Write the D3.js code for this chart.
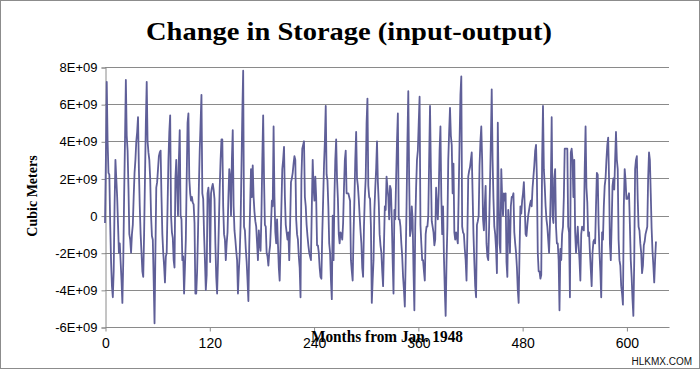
<!DOCTYPE html>
<html>
<head>
<meta charset="utf-8">
<script src="https://cdn.jsdelivr.net/npm/d3@7"></script>
<style>
  html, body { margin: 0; padding: 0; background: #fff; }
  svg { display: block; }
</style>
</head>
<body>
<svg id="chart" width="700" height="369"></svg>
<script>
// Monthly change in storage, in units of 1E+09 cubic meters (month 0 = Jan 1948)
const storageChangeE9 = [
  -0.4, 3.0, 7.2, 4.0, 2.3, 2.2, -0.5, -2.5, -3.8, -4.4,
  -3.0, 0.5, 3.0, 2.0, 1.0, -0.5, -2.0, -1.5, -2.5, -3.5,
  -4.7, -2.5, 1.0, 4.0, 7.3, 4.3, 3.5, 1.5, -1.0, -1.3,
  -2.0, -1.0, -0.5, 1.0, 2.3, 3.0, 4.0, 4.5, 5.3, 2.5,
  0.5, -1.0, -2.0, -3.0, -3.3, -1.0, 2.0, 5.0, 7.2, 4.0,
  3.4, 3.0, 2.0, 0.0, -1.1, -1.3, -3.5, -5.8, -2.0, 1.5,
  1.8, 2.5, 3.2, 3.4, 3.5, 1.0, -1.0, -2.0, -2.7, -3.6,
  -2.2, -2.0, 0.5, 3.0, 4.5, 5.4, 0.0, -0.9, -1.2, -2.4,
  -2.8, 2.0, 3.0, 1.5, 0.0, 3.0, 4.6, 0.0, -0.2, -2.4,
  -2.2, -4.2, -2.8, -1.3, 2.0, 5.0, 5.5, 2.0, 1.2, 0.8,
  1.0, 0.7, 0.6, -0.4, -4.2, -4.2, -3.0, -1.0, 1.5, 3.5,
  5.0, 6.5, 1.2, 0.9, -1.0, -2.4, -4.0, -3.2, 1.2, 1.5,
  0.7, -2.5, 1.2, 1.5, 1.7, 1.4, 0.9, -1.5, -3.3, -4.2,
  -2.5, -0.5, 1.5, 3.0, 4.1, 4.1, 0.5, -1.0, -1.3, -2.4,
  -1.5, -0.9, 1.0, 2.5, 2.1, 0.0, 3.0, 4.6, 0.5, -0.8,
  -1.3, -1.9, -2.4, -4.2, -3.0, -2.1, -0.5, 2.5, 5.5, 7.8,
  -0.6, -0.8, -1.8, -2.5, -3.5, -4.6, -1.6, 0.5, 2.5, 1.0,
  2.7, 1.0, 0.2, -0.3, -0.6, -1.5, -2.4, -0.8, -1.5, -1.9,
  0.0, 3.0, 5.4, 2.0, -0.5, -0.6, -2.0, -2.2, -2.7, -2.0,
  -1.6, -0.5, 0.8, 0.5, 4.8, 1.0, -0.9, -1.5, -0.2, -1.5,
  -2.8, -3.5, -1.5, 0.5, 2.5, 3.0, 3.7, 1.0, -0.5, -0.9,
  -1.3, -0.9, -2.4, -0.5, 1.8, 2.0, 2.3, 2.8, 3.2, 3.0,
  -0.2, -1.0, -1.3, -2.2, -2.8, -4.4, 2.0, 3.6, 3.8, 4.0,
  1.0, 0.5, -0.5, -1.1, -1.6, -2.0, -2.2, -2.4, 0.5, 3.0,
  1.5, 0.8, 2.1, 1.0, -1.6, -1.6, -2.0, -2.8, -3.3, -3.4,
  -1.0, 0.8, 2.7, 4.0, 5.9, 2.2, 1.9, 0.5, -1.5, -2.0,
  -3.5, -4.5, 0.0, -2.4, 1.0, 3.0, 4.1, 2.0, 0.9, -1.0,
  -1.5, -0.9, -1.0, -1.3, -0.4, 1.5, 3.0, 3.5, 1.2, 1.2,
  1.2, 1.0, 0.8, -2.4, -3.0, -3.5, -1.0, 0.8, 3.0, 4.5,
  2.0, 1.6, 0.9, 0.0, -0.8, -1.5, -2.8, -3.3, -0.6, 1.0,
  2.0, 5.0, 6.3, 1.6, 1.0, 0.9, -0.6, -4.7, -3.5, -2.4,
  0.3, 1.5, 2.5, 4.0, 1.8, 0.7, -1.0, -1.6, -2.0, -3.0,
  -3.8, -1.6, 0.5, 0.3, 2.1, 1.5, 1.0, -0.2, 1.6, 1.4,
  -0.2, -2.4, -4.2, 0.3, -0.2, 2.0, 4.0, 5.5, -0.2, -0.2,
  -0.6, -1.5, -2.2, -3.3, -4.0, -4.9, -2.4, 0.5, 4.0, 6.7,
  2.0, -1.1, -0.8, 0.5, -0.2, -3.0, -5.1, -0.6, 1.5, 3.0,
  3.5, 5.0, 6.4, -0.5, -1.5, -2.4, -2.4, -3.0, -3.5, -1.0,
  -0.6, -0.6, 0.0, 3.0, 5.9, 2.5, -0.3, -0.6, -0.9, -1.6,
  -1.3, 1.5, 0.5, -0.2, 1.2, 3.5, 4.8, 1.0, -1.0, 0.5,
  -2.2, -4.0, -5.4, -2.5, -0.6, 3.0, 4.5, 5.8, 4.3, 3.8,
  1.2, 2.8, -0.9, -1.3, -0.9, -1.2, -1.5, 1.2, 4.0, 6.5,
  7.5, -0.6, -0.9, -1.0, -1.8, -2.4, -3.5, -1.0, 2.1, 2.4,
  2.6, 3.0, 3.4, 1.2, -1.0, -2.5, -3.8, -4.4, -0.5, -0.3,
  0.0, 2.7, 4.0, 4.8, 3.0, -0.2, -0.8, 0.5, 1.6, -1.5,
  -2.2, -2.4, -0.6, 1.6, 4.0, 6.8, 3.0, 0.9, -0.6, -1.0,
  -1.8, -3.1, 5.0, 1.0, -1.5, -2.0, 2.5, 1.0, 0.0, 1.2,
  0.8, 1.2, -2.5, -3.3, 0.3, -0.6, -2.0, 0.5, 1.0, 1.0,
  1.2, -0.9, -1.5, -2.0, -2.8, -4.0, -4.7, -2.0, 0.5, 0.1,
  0.8, 1.2, 1.8, 0.5, -1.0, -1.1, -0.5, 0.0, 0.3, 0.6,
  0.8, 0.5, 1.5, 2.1, 2.7, 3.5, 3.8, 2.0, -2.0, -3.0,
  -3.0, -3.4, -3.2, 3.0, 5.9, 2.5, 1.6, 0.5, -0.2, -0.6,
  -1.3, -2.0, -0.5, 1.5, 5.3, 0.0, -0.4, 2.0, 2.5, -0.6,
  -1.5, -1.5, -2.4, -5.1, -1.8, -2.4, -1.0, -0.6, 1.0, 3.6,
  3.6, 3.6, 3.6, -0.6, -0.9, -4.4, 3.4, 3.6, 3.0, 1.0,
  3.0, -0.9, -2.0, -1.3, -0.6, -1.6, -2.4, -3.5, -1.0, -0.6,
  -0.7, -0.8, 2.5, 4.8, 1.5, 0.7, -1.1, -0.9, -2.0, -2.9,
  -3.8, -2.0, -1.4, -1.3, -1.5, 0.5, 2.3, 2.2, -0.5, -2.0,
  -3.0, -4.4, -0.9, -1.3, 0.5, 1.6, 2.0, 3.0, 3.8, 4.2,
  2.0, -1.5, -2.4, -0.5, 1.6, 2.0, 1.4, 3.0, 4.5, 3.0,
  2.5, -1.3, -2.4, -2.7, -3.8, -4.2, -4.8, 0.5, 2.5, 1.9,
  0.9, 0.9, 1.0, 1.2, -0.5, -2.4, -3.3, -4.5, -5.4, -2.4,
  2.5, 3.0, 3.2, 0.9, -0.6, -0.8, -1.5, -2.0, -3.1, -2.7,
  -1.6, -1.4, -1.0, -0.8, -0.6, 2.0, 3.4, 3.0, 1.2, -0.7,
  -1.9, -2.7, -3.6, -2.4, -1.4
];
const xTickValues = [0, 120, 240, 360, 480, 600];
const yTickValues = [-6e9, -4e9, -2e9, 0, 2e9, 4e9, 6e9, 8e9];
const yTickLabels = ["-6E+09", "-4E+09", "-2E+09", "0", "2E+09", "4E+09", "6E+09", "8E+09"];
const titleText = "Change in Storage (input-output)";
const xAxisTitle = "Months from Jan. 1948";
const yAxisTitle = "Cubic Meters";
const watermark = "HLKMX.COM";

const data = storageChangeE9.map((v, i) => ({ month: i, value: v * 1e9 }));

const svg = d3.select("#chart");
const W = 700, H = 369;
const plot = { left: 105, right: 669, top: 67, bottom: 327 };

svg.append("rect").attr("x", 0.5).attr("y", 0.5).attr("width", W - 1).attr("height", H - 1)
  .attr("fill", "#fff").attr("stroke", "#8c8c8c").attr("stroke-width", 1);

const x = d3.scaleLinear().domain([0, 649]).range([plot.left, plot.right]);
const y = d3.scaleLinear().domain([-6e9, 8e9]).range([plot.bottom, plot.top]);

// gridlines
svg.append("g").selectAll("line").data(yTickValues.filter(v => v > -6e9)).join("line")
  .attr("x1", plot.left).attr("x2", plot.right)
  .attr("y1", d => Math.round(y(d)) + 0.5).attr("y2", d => Math.round(y(d)) + 0.5)
  .attr("stroke", "#8a8a8a").attr("stroke-width", 1);

// y axis
const yAxis = d3.axisLeft(y).tickValues(yTickValues)
  .tickFormat((d, i) => yTickLabels[i]).tickSize(4).tickPadding(4);
const gy = svg.append("g").attr("transform", `translate(${plot.left + 0.5},0.5)`).call(yAxis);
gy.select(".domain").attr("stroke", "#8a8a8a");
gy.selectAll(".tick line").attr("stroke", "#8a8a8a");
gy.selectAll(".tick text").attr("font-family", "'Liberation Sans', Arial, sans-serif")
  .attr("font-size", 13).attr("fill", "#000");

// x axis
const xAxis = d3.axisBottom(x).tickValues(xTickValues).tickFormat(d3.format("d"))
  .tickSize(4).tickPadding(7);
const gx = svg.append("g").attr("transform", `translate(0.5,${plot.bottom + 0.5})`).call(xAxis);
gx.select(".domain").attr("stroke", "#8a8a8a").attr("d", `M${plot.left},0H${plot.right}`);
gx.selectAll(".tick line").attr("stroke", "#8a8a8a");
gx.selectAll(".tick text").attr("font-family", "'Liberation Sans', Arial, sans-serif")
  .attr("font-size", 14).attr("fill", "#000");

// series line
const line = d3.line().x(d => x(d.month)).y(d => y(d.value));
svg.append("path").datum(data).attr("d", line)
  .attr("fill", "none").attr("stroke", "#5f5f98").attr("stroke-width", 1.8)
  .attr("stroke-linejoin", "round");

// titles
svg.append("text").attr("x", 349).attr("y", 40).attr("text-anchor", "middle")
  .attr("font-family", "'Liberation Serif', 'DejaVu Serif', serif").attr("font-weight", "bold")
  .attr("font-size", 26).attr("textLength", 406).attr("lengthAdjust", "spacingAndGlyphs")
  .text(titleText);

svg.append("text").attr("transform", "translate(37,196) rotate(-90)").attr("text-anchor", "middle")
  .attr("font-family", "'Liberation Serif', 'DejaVu Serif', serif").attr("font-weight", "bold")
  .attr("font-size", 14).text(yAxisTitle);

svg.append("text").attr("x", 387).attr("y", 342).attr("text-anchor", "middle")
  .attr("font-family", "'Liberation Serif', 'DejaVu Serif', serif").attr("font-weight", "bold")
  .attr("font-size", 16).attr("textLength", 152).attr("lengthAdjust", "spacingAndGlyphs")
  .text(xAxisTitle);

svg.append("text").attr("x", 692).attr("y", 365).attr("text-anchor", "end")
  .attr("font-family", "'Liberation Sans', Arial, sans-serif")
  .attr("font-size", 10).attr("fill", "#111").text(watermark);
</script>
</body>
</html>
